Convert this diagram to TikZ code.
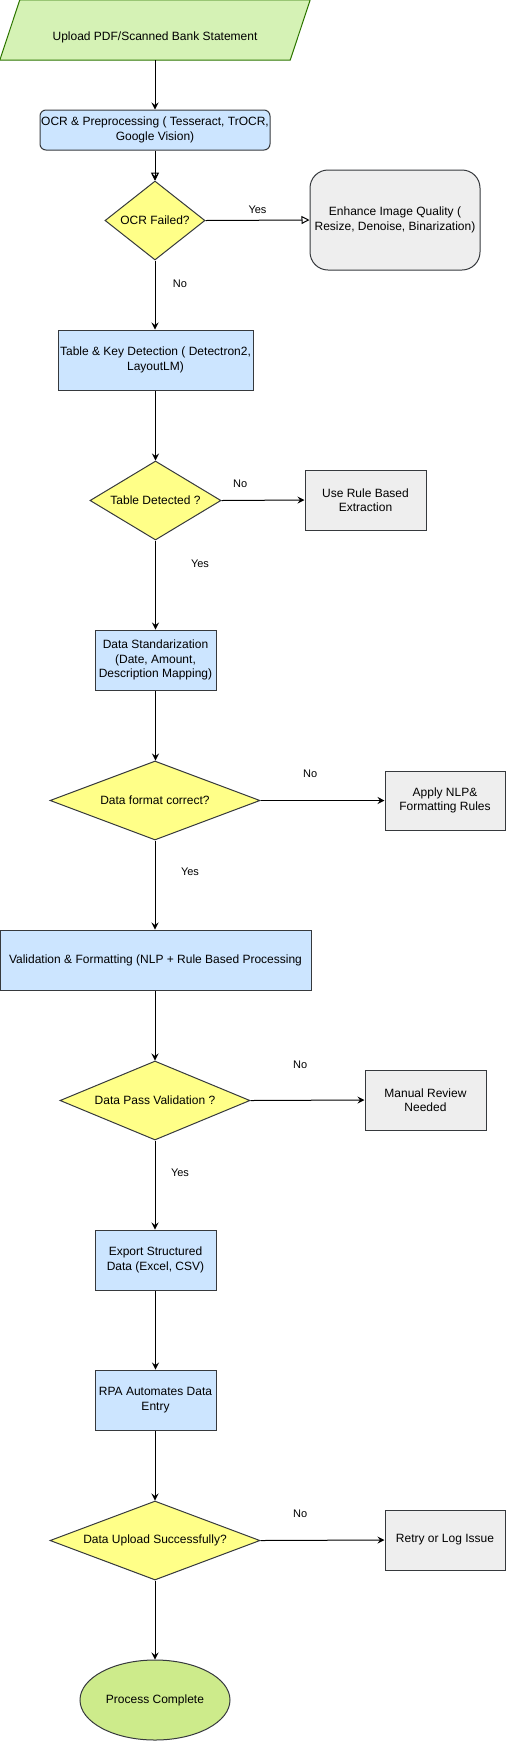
\documentclass[tikz,border=0pt]{standalone}
\usepackage{fontspec}
\setmainfont{Liberation Sans}
\usetikzlibrary{shapes.geometric,arrows.meta}
\definecolor{blueF}{HTML}{CCE5FF}
\definecolor{greyF}{HTML}{EEEEEE}
\definecolor{yelF}{HTML}{FFFF88}
\definecolor{strk}{HTML}{36393D}
\definecolor{lgreenF}{HTML}{D5F2B5}
\definecolor{greenS}{HTML}{2D7600}
\definecolor{ellF}{HTML}{CDEB8B}
\begin{document}
\begin{tikzpicture}[x=1pt,y=-1pt,
  every node/.style={font=\fontsize{12}{14.5}\selectfont, align=center, inner sep=0pt},
  procbox/.style={draw=strk, fill=blueF, line width=1pt, rectangle},
  greybox/.style={draw=strk, fill=greyF, line width=1pt, rectangle},
  decision/.style={draw=strk, fill=yelF, line width=1pt, diamond},
  arr/.style={line width=1pt, -{Stealth[length=7pt,width=7pt,inset=2.5pt]}},
  openarr/.style={line width=1pt, -{Triangle[open,length=8pt,width=8pt]}},
  lbl/.style={font=\fontsize{11}{13}\selectfont}
]
\useasboundingbox (0,0) rectangle (506,1741);

% start parallelogram
\node (upload) at (155,30) [minimum width=270pt, minimum height=60pt] {};
\draw[draw=greenS, fill=lgreenF, line width=1pt]
  (upload.north west) -- ([xshift=20pt]upload.north east) -- (upload.south east)
  -- ([xshift=-20pt]upload.south west) -- cycle;
\node (uploadtxt) at (155,37) {Upload PDF/Scanned Bank Statement};

\node[procbox, rounded corners=6pt, minimum width=230pt, minimum height=40pt] (ocr) at (155,130)
  {OCR \& Preprocessing ( Tesseract, TrOCR,\\ Google Vision)};
\node[decision, aspect=1.27, minimum width=100pt, minimum height=79pt] (ocrfail) at (155,220.5) {OCR Failed?};
\node[greybox, rounded corners=18pt, minimum width=170pt, minimum height=100pt] (enhance) at (395,220)
  {Enhance Image Quality (\\ Resize, Denoise, Binarization)};

\node[procbox, minimum width=195pt, minimum height=60pt] (table) at (155.5,360)
  {Table \& Key Detection ( Detectron2,\\ LayoutLM)};
\node[decision, aspect=1.66, minimum width=131pt, minimum height=79pt] (tabdet) at (155.5,500.5) {Table Detected ?};
\node[greybox, minimum width=121pt, minimum height=60pt] (rule) at (365.5,500)
  {Use Rule Based\\ Extraction};

\node[procbox, minimum width=121pt, minimum height=60pt] (std) at (155.5,660)
  {Data Standarization\\ (Date, Amount,\\ Description Mapping)};
\node[decision, aspect=2.66, minimum width=210pt, minimum height=79pt] (fmt) at (155,800.5) {Data format correct?};
\node[greybox, minimum width=120pt, minimum height=59pt] (nlp) at (445,800.5)
  {Apply NLP\&\\ Formatting Rules};

\node[procbox, minimum width=311pt, minimum height=60pt] (valid) at (155.5,960)
  {Validation \& Formatting (NLP + Rule Based Processing};
\node[decision, aspect=2.4, minimum width=190pt, minimum height=79pt] (pass) at (155,1100.5) {Data Pass Validation ?};
\node[greybox, minimum width=121pt, minimum height=60pt] (manual) at (425.5,1100)
  {Manual Review\\ Needed};

\node[procbox, minimum width=121pt, minimum height=60pt] (export) at (155.5,1260)
  {Export Structured\\ Data (Excel, CSV)};
\node[procbox, minimum width=121pt, minimum height=60pt] (rpa) at (155.5,1400)
  {RPA Automates Data\\ Entry};
\node[decision, aspect=2.66, minimum width=210pt, minimum height=79pt] (upl) at (155,1540.5) {Data Upload Successfully?};
\node[greybox, minimum width=120pt, minimum height=60pt] (retry) at (445,1540)
  {Retry or Log Issue};
\node[draw=strk, fill=ellF, line width=1pt, ellipse, minimum width=150pt, minimum height=80pt] (done) at (155,1700)
  {Process Complete};

% connectors
\draw[arr] (upload.south -| ocr.north) -- (ocr.north);
\draw[openarr] (ocr.south) -- (ocrfail.north);
\draw[arr] (ocr.south) -- (ocrfail.north);
\draw[openarr] (ocrfail.east) -- node[lbl, pos=0.5, yshift=10.5pt] {Yes} (enhance.west);
\draw[arr] (ocrfail.south) -- node[lbl, pos=0.33, xshift=25pt] {No} (table.north -| ocrfail.south);
\draw[arr] (table.south) -- (tabdet.north);
\draw[arr] (tabdet.east) -- node[lbl, pos=0.226, yshift=17pt] {No} (rule.west);
\draw[arr] (tabdet.south) -- node[lbl, pos=0.256, xshift=44.5pt] {Yes} (std.north);
\draw[arr] (std.south) -- (fmt.north -| std.south);
\draw[arr] (fmt.east) -- node[lbl, pos=0.4, yshift=27pt] {No} (nlp.west);
\draw[arr] (fmt.south) -- node[lbl, pos=0.356, xshift=35pt] {Yes} (valid.north -| fmt.south);
\draw[arr] (valid.south -| pass.north) -- (pass.north);
\draw[arr] (pass.east) -- node[lbl, pos=0.435, yshift=36pt] {No} (manual.west);
\draw[arr] (pass.south) -- node[lbl, pos=0.367, xshift=25pt] {Yes} (export.north -| pass.south);
\draw[arr] (export.south) -- (rpa.north);
\draw[arr] (rpa.south -| upl.north) -- (upl.north);
\draw[arr] (upl.east) -- node[lbl, pos=0.32, yshift=27pt] {No} (retry.west);
\draw[arr] (upl.south) -- (done.north);
\end{tikzpicture}
\end{document}
